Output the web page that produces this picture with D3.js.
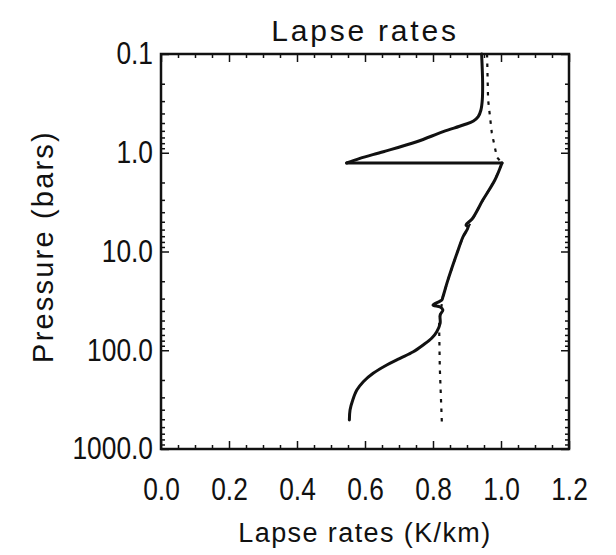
<!DOCTYPE html>
<html>
<head>
<meta charset="utf-8">
<script src="https://cdn.jsdelivr.net/npm/d3@7"></script>
<style>
  html, body { margin: 0; padding: 0; background: #ffffff; }
  svg { display: block; }
  text { font-family: "Liberation Sans", Arial, sans-serif; fill: #111; }
</style>
</head>
<body>
<svg id="chart" width="616" height="555"></svg>
<script>
// ---- data ----
const title = "Lapse rates";
const xLabel = "Lapse rates (K/km)";
const yLabel = "Pressure (bars)";
const xTicks = [0.0, 0.2, 0.4, 0.6, 0.8, 1.0, 1.2];
const xTickLabels = ["0.0", "0.2", "0.4", "0.6", "0.8", "1.0", "1.2"];
const yTicks = [0.1, 1, 10, 100, 1000];
const yTickLabels = ["0.1", "1.0", "10.0", "100.0", "1000.0"];

// solid line: actual lapse rate (pressure in bars, lapse rate in K/km)
const solidPressure = [0.1, 0.197, 0.292, 0.369, 0.431, 0.477, 0.524, 0.612, 0.773, 0.976, 1.14, 1.27,
  1.27, 1.89, 3.0, 4.69, 5.39, 5.65, 7.13, 10.3, 19.4, 28.9, 31, 34.8, 36.5, 39.1, 44,
  53.3, 64.9, 75.7, 88.5, 103.5, 120.7, 141, 171, 208, 253, 319, 403, 508];
const solidRate = [0.943, 0.946, 0.945, 0.941, 0.933, 0.919, 0.889, 0.830, 0.752, 0.654, 0.585, 0.546,
  1.003, 0.982, 0.947, 0.915, 0.897, 0.903, 0.888, 0.871, 0.844, 0.829, 0.826, 0.800, 0.821, 0.829, 0.821,
  0.821, 0.811, 0.796, 0.771, 0.742, 0.703, 0.664, 0.624, 0.595, 0.576, 0.564, 0.556, 0.554];

// dotted line: adiabatic lapse rate
const dottedPressure = [0.1, 0.29, 0.63, 1.11, 1.27, 1.89, 3.0, 7.13, 10.3, 19.4, 28.9, 44, 55, 150, 533];
const dottedRate = [0.959, 0.962, 0.973, 0.988, 1.003, 0.982, 0.947, 0.888, 0.871, 0.844, 0.829, 0.821, 0.818, 0.820, 0.826];

// ---- layout ----
const margin = {left: 161, top: 54, right: 616 - 569, bottom: 555 - 449};
const W = 616 - margin.left - margin.right;
const H = 555 - margin.top - margin.bottom;
const squeeze = 0.85;   // narrow digits like the original plotting font
const tickFont = 31;

const svg = d3.select("#chart");
const g = svg.append("g").attr("transform", `translate(${margin.left},${margin.top})`);

const x = d3.scaleLinear().domain([0, 1.2]).range([0, W]);
const y = d3.scaleLog().domain([0.1, 1000]).range([0, H]);

// minor ticks
const xMinor = d3.range(0, 1.2001, 0.05).filter(v => Math.abs(v / 0.2 - Math.round(v / 0.2)) > 1e-6);
const yMinor = [];
[0.1, 1, 10, 100].forEach(d => { for (let k = 2; k <= 9; k++) yMinor.push(d * k); });

const majorLen = 8, minorLen = 4;
const tickStyle = sel => sel.attr("stroke", "#111").attr("stroke-width", 1.5);

// bottom axis
g.append("g").attr("transform", `translate(0,${H})`)
  .call(d3.axisBottom(x).tickValues(xTicks).tickFormat((d, i) => xTickLabels[i]).tickSizeInner(-majorLen).tickSizeOuter(0).tickPadding(0))
  .call(a => a.select(".domain").remove())
  .call(a => a.selectAll("line").call(tickStyle))
  .call(a => a.selectAll("text").attr("font-size", tickFont).attr("fill", "#111")
    .attr("y", 51).attr("dy", null).attr("transform", `scale(${squeeze},1)`));
g.append("g").attr("transform", `translate(0,${H})`)
  .call(d3.axisBottom(x).tickValues(xMinor).tickFormat("").tickSizeInner(-minorLen).tickSizeOuter(0))
  .call(a => a.select(".domain").remove())
  .call(a => a.selectAll("line").call(tickStyle));
// top axis (ticks only)
g.append("g")
  .call(d3.axisTop(x).tickValues(xTicks).tickFormat("").tickSizeInner(-majorLen).tickSizeOuter(0))
  .call(a => a.select(".domain").remove())
  .call(a => a.selectAll("line").call(tickStyle));
g.append("g")
  .call(d3.axisTop(x).tickValues(xMinor).tickFormat("").tickSizeInner(-minorLen).tickSizeOuter(0))
  .call(a => a.select(".domain").remove())
  .call(a => a.selectAll("line").call(tickStyle));

// left axis
g.append("g")
  .call(d3.axisLeft(y).tickValues(yTicks).tickFormat((d, i) => yTickLabels[i]).tickSizeInner(-majorLen).tickSizeOuter(0).tickPadding(0))
  .call(a => a.select(".domain").remove())
  .call(a => a.selectAll("line").call(tickStyle))
  .call(a => a.selectAll("text").attr("font-size", tickFont).attr("fill", "#111")
    .attr("x", -8 / squeeze).attr("transform", `scale(${squeeze},1)`));
g.append("g")
  .call(d3.axisLeft(y).tickValues(yMinor).tickFormat("").tickSizeInner(-minorLen).tickSizeOuter(0))
  .call(a => a.select(".domain").remove())
  .call(a => a.selectAll("line").call(tickStyle));
// right axis (ticks only)
g.append("g").attr("transform", `translate(${W},0)`)
  .call(d3.axisRight(y).tickValues(yTicks).tickFormat("").tickSizeInner(-majorLen).tickSizeOuter(0))
  .call(a => a.select(".domain").remove())
  .call(a => a.selectAll("line").call(tickStyle));
g.append("g").attr("transform", `translate(${W},0)`)
  .call(d3.axisRight(y).tickValues(yMinor).tickFormat("").tickSizeInner(-minorLen).tickSizeOuter(0))
  .call(a => a.select(".domain").remove())
  .call(a => a.selectAll("line").call(tickStyle));

// frame
g.append("rect").attr("x", 0).attr("y", 0).attr("width", W).attr("height", H)
  .attr("fill", "none").attr("stroke", "#111").attr("stroke-width", 2.5);

// lines
const lineLinear = d3.line().x(d => x(d[1])).y(d => y(d[0]));
const lineSmooth = d3.line().x(d => x(d[1])).y(d => y(d[0])).curve(d3.curveCatmullRom.alpha(0.5));
const dotted = dottedPressure.map((p, i) => [p, dottedRate[i]]);
const solid = solidPressure.map((p, i) => [p, solidRate[i]]);
const tipIdx = 11; // index where the spike turns (sharp corners kept)

g.append("path").datum(dotted).attr("d", lineLinear)
  .attr("fill", "none").attr("stroke", "#111").attr("stroke-width", 2.2)
  .attr("stroke-dasharray", "3.5,6");

const solidPieces = [solid.slice(0, tipIdx + 1), solid.slice(tipIdx, tipIdx + 2), solid.slice(tipIdx + 1)];
solidPieces.forEach((piece, i) => {
  g.append("path").datum(piece).attr("d", i === 1 ? lineLinear : lineSmooth)
    .attr("fill", "none").attr("stroke", "#111").attr("stroke-width", 3)
    .attr("stroke-linejoin", "round").attr("stroke-linecap", "round");
});

// titles
svg.append("text").attr("x", margin.left + W / 2).attr("y", 41)
  .attr("text-anchor", "middle").attr("font-size", 30).attr("letter-spacing", 2.8).text(title);
svg.append("text").attr("x", margin.left + W / 2).attr("y", 542)
  .attr("text-anchor", "middle").attr("font-size", 27).attr("letter-spacing", 1.4).text(xLabel);
svg.append("text").attr("transform", `translate(53,${margin.top + H / 2 - 5}) rotate(-90)`)
  .attr("text-anchor", "middle").attr("font-size", 29).attr("letter-spacing", 2.2).text(yLabel);
</script>
</body>
</html>
